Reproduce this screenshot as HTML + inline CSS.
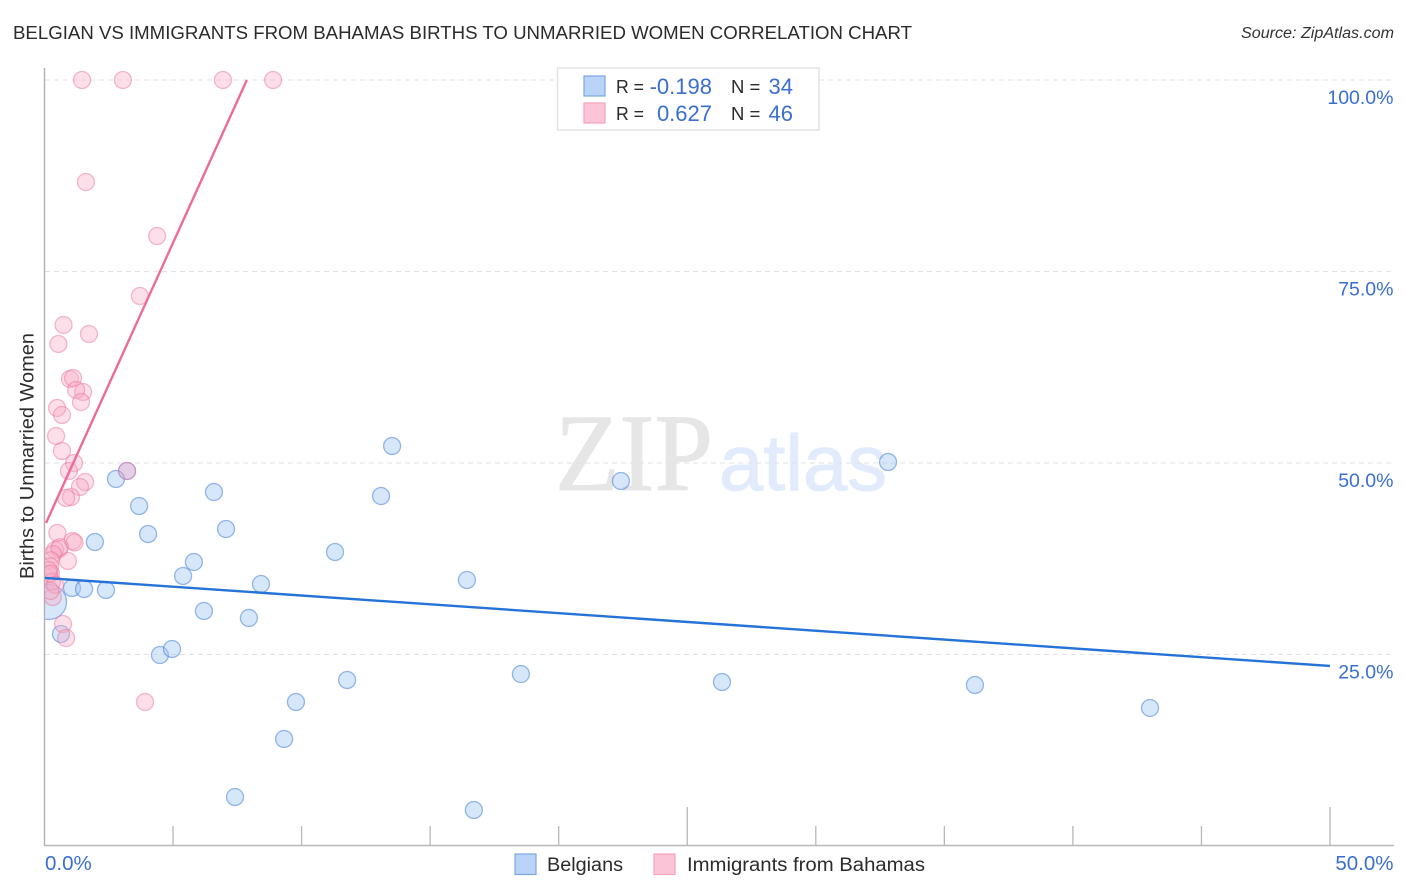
<!DOCTYPE html>
<html lang="en">
<head>
<meta charset="utf-8">
<title>Belgian vs Immigrants from Bahamas Births to Unmarried Women Correlation Chart</title>
<style>
html,body{margin:0;padding:0;background:#fff;width:1406px;height:892px;overflow:hidden}
svg{display:block}
text{font-family:"Liberation Sans",sans-serif}
</style>
</head>
<body>
<svg id="chart" xmlns="http://www.w3.org/2000/svg" width="1406" height="892" viewBox="0 0 1406 892">
  <defs>
    <clipPath id="plot-clip"><rect x="45" y="60" width="1350" height="786"/></clipPath>
  </defs>
  <rect x="0" y="0" width="1406" height="892" fill="#ffffff"/>
  <text x="13" y="39" font-size="18.5" fill="#2b2b2b" textLength="899" lengthAdjust="spacingAndGlyphs">BELGIAN VS IMMIGRANTS FROM BAHAMAS BIRTHS TO UNMARRIED WOMEN CORRELATION CHART</text>
  <text x="1241" y="38" font-size="15.5" font-style="italic" fill="#333" textLength="153" lengthAdjust="spacingAndGlyphs">Source: ZipAtlas.com</text>

  <g>
    <text x="555" y="490" font-size="110" fill="#e6e6e6" stroke="#e6e6e6" stroke-width="1" style="font-family:'Liberation Serif',serif" textLength="158" lengthAdjust="spacingAndGlyphs">ZIP</text>
    <text x="719" y="490" font-size="79" fill="#e2ebfb" stroke="#e2ebfb" stroke-width="1" textLength="168" lengthAdjust="spacingAndGlyphs">atlas</text>
  </g>

  <g id="grid"></g>
  <g id="axes">
    <line x1="44.5" y1="68" x2="44.5" y2="846" stroke="#b0b0b0" stroke-width="1.4"/>
    <line x1="44" y1="845.5" x2="1394" y2="845.5" stroke="#b8b8b8" stroke-width="1.4"/>
  </g>
  <g id="x-ticks"></g>
  <g id="y-labels"></g>
  <g id="x-labels"></g>
  <g id="series" clip-path="url(#plot-clip)"></g>

  <text transform="translate(33.5,456) rotate(-90)" font-size="19" fill="#2b2b2b" text-anchor="middle" textLength="246" lengthAdjust="spacingAndGlyphs">Births to Unmarried Women</text>

  <g>
    <rect x="557.5" y="68" width="261.5" height="62" fill="#ffffff" stroke="#e2e2e2" stroke-width="1.5"/>
    <rect x="584" y="76" width="21" height="20" fill="#b9d4f7" stroke="#7ba7e3" stroke-width="1.2"/>
    <rect x="584" y="103" width="21" height="20" fill="#fcc5d7" stroke="#f3a3bd" stroke-width="1.2"/>
    <text x="616" y="93" font-size="18.5" fill="#2b2b2b" textLength="28" lengthAdjust="spacingAndGlyphs">R =</text>
    <text x="712" y="94" font-size="22" fill="#3a6fd0" text-anchor="end">-0.198</text>
    <text x="731" y="93" font-size="18.5" fill="#2b2b2b">N =</text>
    <text x="793" y="94" font-size="22" fill="#3a6fd0" text-anchor="end">34</text>
    <text x="616" y="120" font-size="18.5" fill="#2b2b2b" textLength="28" lengthAdjust="spacingAndGlyphs">R =</text>
    <text x="712" y="121" font-size="22" fill="#3a6fd0" text-anchor="end">0.627</text>
    <text x="731" y="120" font-size="18.5" fill="#2b2b2b">N =</text>
    <text x="793" y="121" font-size="22" fill="#3a6fd0" text-anchor="end">46</text>
  </g>

  <g>
    <rect x="515" y="854" width="21" height="20.5" fill="#b9d4f7" stroke="#7ba7e3" stroke-width="1.2"/>
    <text x="547" y="871" font-size="19" fill="#2b2b2b" textLength="76" lengthAdjust="spacingAndGlyphs">Belgians</text>
    <rect x="654" y="854" width="21" height="20.5" fill="#fcc5d7" stroke="#f3a3bd" stroke-width="1.2"/>
    <text x="687" y="871" font-size="19" fill="#2b2b2b" textLength="238" lengthAdjust="spacingAndGlyphs">Immigrants from Bahamas</text>
  </g>
</svg>

<script>
// Chart data, all in percent units
const yTickValues = [100, 75, 50, 25];
const yTickLabels = ["100.0%", "75.0%", "50.0%", "25.0%"];
const xTickValues = [5, 10, 15, 20, 25, 30, 35, 40, 45, 50];
const xMajorTicks = [25, 50];
const xEndValues = [0, 50];
const xEndLabels = ["0.0%", "50.0%"];

const belgianX = [3.21, 2.78, 3.68, 6.59, 7.06, 4.03, 1.96, 5.81, 5.39, 11.30, 8.42, 1.07, 1.54, 2.39, 6.20, 7.95, 0.64, 4.49, 4.96, 9.78, 11.77, 9.32, 7.41, 13.52, 13.09, 16.43, 18.53, 16.70, 22.42, 26.35, 32.81, 36.19, 43.00, 0.18];
const belgianY = [48.96, 47.91, 44.39, 46.21, 41.38, 40.73, 39.69, 37.08, 35.25, 38.38, 34.20, 33.68, 33.55, 33.42, 30.68, 29.77, 27.68, 24.93, 25.72, 18.80, 21.67, 13.97, 6.40, 52.22, 45.69, 34.73, 22.45, 4.70, 47.65, 21.41, 50.13, 21.02, 18.02, 31.85];
const belgianWeight = [1, 1, 1, 1, 1, 1, 1, 1, 1, 1, 1, 1, 1, 1, 1, 1, 1, 1, 1, 1, 1, 1, 1, 1, 1, 1, 1, 1, 1, 1, 1, 1, 1, 4.2];

const bahamasX = [1.46, 3.05, 6.94, 8.89, 1.61, 4.38, 3.71, 0.74, 1.73, 0.54, 0.99, 1.11, 1.50, 1.23, 1.42, 0.49, 0.68, 0.45, 0.68, 1.15, 0.95, 1.58, 1.38, 1.03, 0.84, 3.21, 3.91, 0.50, 1.10, 1.17, 0.56, 0.41, 0.91, 0.72, 0.84, 0.32, 0.60, 0.33, 0.24, 0.22, 0.25, 0.18, 0.29, 0.41, 0.23, 0.16];
const bahamasY = [100, 100, 100, 100, 86.68, 79.63, 71.80, 68.02, 66.84, 65.54, 60.97, 61.10, 59.27, 59.53, 57.96, 57.18, 56.27, 53.52, 51.57, 50.00, 48.96, 47.52, 46.87, 45.56, 45.43, 48.96, 18.80, 40.86, 39.82, 39.62, 38.77, 38.64, 37.21, 28.98, 27.15, 32.51, 39.00, 38.10, 37.30, 36.50, 35.60, 35.50, 34.50, 34.10, 33.30, 36.00];

const belgianTrendX = [0, 50];
const belgianTrendY = [35.0, 23.5];
const bahamasTrendX = [0.06, 7.87];
const bahamasTrendY = [42.17, 100];

// Axis functions
const xScale = v => 44.5 + v * 25.71;
const yScale = v => 846 - v * 7.66;

const NS = "http://www.w3.org/2000/svg";
function make(parent, tag, attrs, text) {
  const el = document.createElementNS(NS, tag);
  for (const k in attrs) el.setAttribute(k, attrs[k]);
  if (text !== undefined) el.textContent = text;
  parent.appendChild(el);
  return el;
}

const gridG = document.getElementById("grid");
yTickValues.forEach(v => {
  const el = make(gridG, "line", {x1: 45, x2: 1394, y1: yScale(v), y2: yScale(v), stroke: "#e2e2e2", "stroke-width": 1, "stroke-dasharray": "5 4"});
  
  
});

const xTickG = document.getElementById("x-ticks");
xTickValues.forEach(v => {
  const top = xMajorTicks.includes(v) ? 807 : 826;
  const el = make(xTickG, "line", {x1: xScale(v), x2: xScale(v), y1: top, y2: 846, stroke: "#b8b8b8", "stroke-width": 1.3});
  
  
});

const yLabelG = document.getElementById("y-labels");
yTickValues.forEach((v, i) => {
  const el = make(yLabelG, "text", {x: 1393.5, y: yScale(v) + 24, "font-size": 19.5, fill: "#3a6fd0", "text-anchor": "end"}, yTickLabels[i]);
  
  
});

const xLabelG = document.getElementById("x-labels");
xEndValues.forEach((v, i) => {
  const isLast = i === xEndValues.length - 1;
  const el = make(xLabelG, "text", {x: isLast ? 1393.5 : xScale(v) + 0.5, y: 870, "font-size": 20.5, fill: "#3a6fd0", "text-anchor": isLast ? "end" : "start"}, xEndLabels[i]);
  
  
});

const seriesG = document.getElementById("series");
const belgianG = make(seriesG, "g", {});


belgianX.forEach((v, i) => {
  const el = make(belgianG, "circle", {cx: xScale(v), cy: yScale(belgianY[i]), r: 8.5 * Math.sqrt(belgianWeight[i]), fill: "rgba(160,198,243,0.42)", stroke: "rgba(70,130,215,0.55)", "stroke-width": 1.3});
  
  
});

const bahamasG = make(seriesG, "g", {});


bahamasX.forEach((v, i) => {
  const el = make(bahamasG, "circle", {cx: xScale(v), cy: yScale(bahamasY[i]), r: 8.5, fill: "rgba(248,170,197,0.38)", stroke: "rgba(232,120,160,0.5)", "stroke-width": 1.3});
  
  
});

const trendBlue = make(seriesG, "line", {x1: xScale(belgianTrendX[0]), y1: yScale(belgianTrendY[0]), x2: xScale(belgianTrendX[1]), y2: yScale(belgianTrendY[1]), stroke: "#2673d8", "stroke-width": 2.4});



const trendPink = make(seriesG, "line", {x1: xScale(bahamasTrendX[0]), y1: yScale(bahamasTrendY[0]), x2: xScale(bahamasTrendX[1]), y2: yScale(bahamasTrendY[1]), stroke: "#ec6b9b", "stroke-width": 2.4});


</script>
</body>
</html>
